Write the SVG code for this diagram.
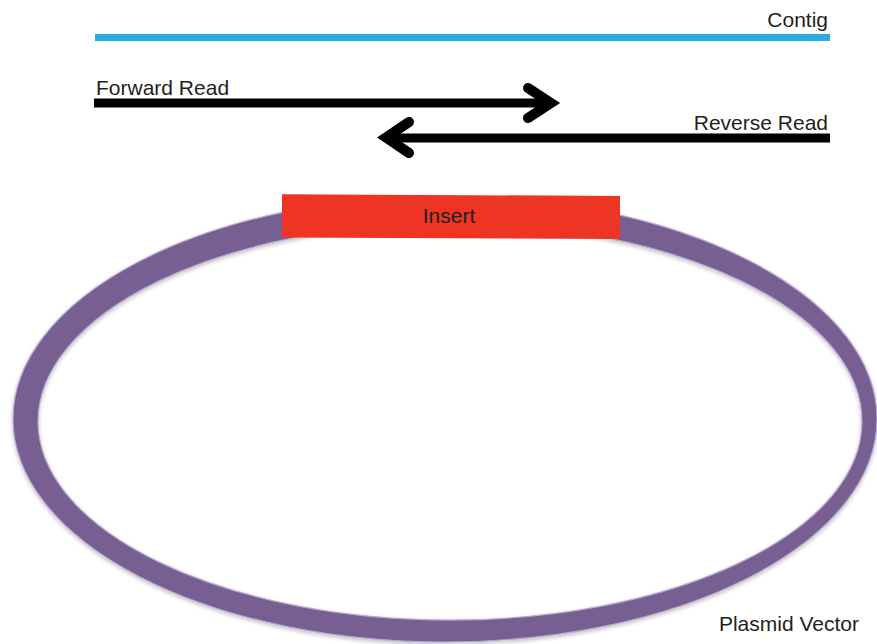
<svg xmlns="http://www.w3.org/2000/svg" width="877" height="644" viewBox="0 0 877 644">
  <style>
    .lbl { font-family: "Liberation Sans", Arial, sans-serif; font-size: 21px; fill: #231F20; }
    .read { fill: none; stroke: #000000; stroke-width: 9; }
    .head { fill: none; stroke: #000000; stroke-width: 10; stroke-linecap: round; stroke-linejoin: miter; stroke-miterlimit: 10; }
  </style>
  <defs>
    <filter id="shadow" x="-5%" y="-5%" width="110%" height="115%">
      <feGaussianBlur in="SourceAlpha" stdDeviation="2"/>
      <feOffset dx="0" dy="2" result="b"/>
      <feComponentTransfer><feFuncA type="linear" slope="0.25"/></feComponentTransfer>
      <feMerge><feMergeNode/><feMergeNode in="SourceGraphic"/></feMerge>
    </filter>
  </defs>
  <rect width="877" height="644" fill="#FFFFFF"/>

  <g id="plasmid-vector">
    <path filter="url(#shadow)" fill="#775F91" fill-rule="evenodd" stroke="#B9A6D3" stroke-width="1.2"
      d="M13,419 A432,223 0 1,0 877,419 A432,223 0 1,0 13,419 Z M38,421.5 A412,198.5 0 1,0 862,421.5 A412,198.5 0 1,0 38,421.5 Z"/>
    <text class="lbl" x="859" y="631" text-anchor="end">Plasmid Vector</text>
  </g>

  <g id="insert">
    <polygon points="282,194.3 620,195.9 620,239 282,237.5" fill="#EE3524"/>
    <text class="lbl" x="449" y="223" text-anchor="middle">Insert</text>
  </g>

  <g id="contig">
    <line x1="95" y1="37.5" x2="830" y2="37.5" stroke="#29ABE2" stroke-width="7"/>
    <text class="lbl" x="828" y="27" text-anchor="end">Contig</text>
  </g>

  <g id="forward-read">
    <text class="lbl" x="96" y="95">Forward Read</text>
  </g>

  <g id="reverse-read">
    <text class="lbl" x="828" y="130" text-anchor="end">Reverse Read</text>
  </g>

  <g id="connectors">
    <line class="read" x1="94" y1="103" x2="552" y2="103"/>
    <polyline class="head" points="528,88 551,103 528,118"/>
    <line class="read" x1="830" y1="138" x2="385" y2="138"/>
    <polyline class="head" points="409,122 386,137.5 409,153"/>
  </g>
</svg>
